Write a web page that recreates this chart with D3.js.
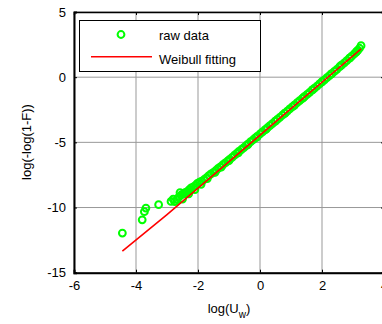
<!DOCTYPE html>
<html>
<head>
<meta charset="utf-8">
<script src="https://cdn.jsdelivr.net/npm/d3@7"></script>
<style>
  body { margin: 0; background: #fff; }
  svg { display: block; font-family: Arial, "Liberation Sans", sans-serif; }
</style>
</head>
<body>
<div id="chart"></div>
<script>
// raw data (log(U_w), log(-log(1-F)))
const rawX = [-4.44, -3.80, -3.73, -3.68, -3.27, -2.87, -2.80, -2.75, -2.68, -2.62, -2.58, -2.55, -2.48, -2.42,
  -2.35, -2.28, -2.22, -2.15, -2.08, -2.02, -1.95, -1.88, -1.80, -1.72, -1.65, -1.58, -1.50, -1.42,
  -1.35, -1.28, -1.20, -1.12, -1.05, -0.98, -0.90, -0.82, -0.75, -0.68, -0.60, -0.52, -0.45, -0.38,
  -0.30, -0.22, -0.15, -0.08, 0.00, 0.08, 0.16, 0.24, 0.32, 0.40, 0.48, 0.56, 0.64, 0.72, 0.80,
  0.88, 0.96, 1.04, 1.12, 1.20, 1.28, 1.36, 1.44, 1.52, 1.60, 1.68, 1.76, 1.84, 1.92, 2.00, 2.08,
  2.16, 2.24, 2.32, 2.40, 2.48, 2.56, 2.64, 2.72, 2.80, 2.88, 2.96, 3.04, 3.10, 3.16, 3.21, 3.26,
  -2.50, -2.30, -2.10, -1.90, -1.70, -1.45, -1.25, -1.00, -0.70, -0.40, -0.10, 0.20, 0.50, 0.80,
  1.10, 1.40, 1.70, 2.00, 2.30, 2.60, 2.90, 3.12];
const rawY = [-11.96, -10.94, -10.32, -10.04, -9.78, -9.53, -9.35, -9.55, -9.40, -9.20, -8.85, -9.05, -8.95, -8.85,
  -8.78, -8.62, -8.50, -8.42, -8.30, -8.15, -8.05, -7.98, -7.85, -7.70, -7.55, -7.42, -7.30, -7.15,
  -7.00, -6.88, -6.72, -6.58, -6.45, -6.30, -6.15, -5.98, -5.85, -5.70, -5.55, -5.40, -5.25, -5.12,
  -4.95, -4.80, -4.66, -4.52, -4.36, -4.20, -4.05, -3.88, -3.72, -3.56, -3.40, -3.24, -3.08, -2.92, -2.76,
  -2.60, -2.44, -2.28, -2.12, -1.96, -1.80, -1.64, -1.48, -1.32, -1.16, -1.00, -0.84, -0.68, -0.52, -0.36, -0.20,
  -0.04, 0.12, 0.28, 0.44, 0.60, 0.78, 0.94, 1.10, 1.27, 1.44, 1.61, 1.79, 1.93, 2.08, 2.22, 2.42,
  -9.35, -8.95, -8.62, -8.22, -7.78, -7.30, -6.90, -6.40, -5.80, -5.20, -4.60, -3.98, -3.37, -2.78,
  -2.18, -1.57, -0.96, -0.35, 0.26, 0.87, 1.48, 1.98];

// Weibull fit line
const fitX = [-4.44, -3.00, -2.00, -1.00, 0.00, 1.00, 2.00, 3.26];
const fitY = [-13.35, -10.54, -8.51, -6.48, -4.45, -2.42, -0.39, 2.17];

const xTicks = [-6, -4, -2, 0, 2, 4];
const yTicks = [-15, -10, -5, 0, 5];
const legendLabels = ['raw data', 'Weibull fitting'];

const W = 382, H = 324;
const m = { left: 74, top: 12, right: 384, bottom: 272.7 };

const svg = d3.select('#chart').append('svg')
  .attr('width', W)
  .attr('height', H);

const x = d3.scaleLinear().domain([-6, 4]).range([m.left, m.right]);
const y = d3.scaleLinear().domain([-15, 5]).range([m.bottom, m.top]);

// grid
const grid = svg.append('g');
grid.selectAll('line.gx')
  .data(xTicks)
  .enter()
  .append('line')
  .attr('x1', d => x(d)).attr('x2', d => x(d))
  .attr('y1', m.top).attr('y2', m.bottom)
  .attr('stroke', '#999')
  .attr('stroke-width', 1);
grid.selectAll('line.gy')
  .data(yTicks)
  .enter()
  .append('line')
  .attr('x1', m.left).attr('x2', m.right)
  .attr('y1', d => y(d)).attr('y2', d => y(d))
  .attr('stroke', '#999')
  .attr('stroke-width', 1);

// raw data circles
svg.append('g')
  .selectAll('circle')
  .data(rawX.map((v, i) => [v, rawY[i]]))
  .enter()
  .append('circle')
  .attr('cx', d => x(d[0]))
  .attr('cy', d => y(d[1]))
  .attr('r', 3.4)
  .attr('fill', 'none')
  .attr('stroke', '#00ff00')
  .attr('stroke-width', 2);

// fit line
const line = d3.line().x(d => x(d[0])).y(d => y(d[1]));
svg.append('path')
  .datum(fitX.map((v, i) => [v, fitY[i]]))
  .attr('d', line)
  .attr('fill', 'none')
  .attr('stroke', '#ff0000')
  .attr('stroke-width', 1.6);

// axes
const fmt = d => String(d);
const xAxis = svg.append('g')
  .attr('transform', `translate(0,${m.bottom})`)
  .call(d3.axisBottom(x).tickValues(xTicks).tickSize(-3).tickPadding(8).tickFormat(fmt));
const yAxis = svg.append('g')
  .attr('transform', `translate(${m.left},0)`)
  .call(d3.axisLeft(y).tickValues(yTicks).tickSize(-3).tickPadding(8).tickFormat(fmt));
svg.append('g')
  .attr('transform', `translate(0,${m.top})`)
  .call(d3.axisTop(x).tickValues(xTicks).tickSize(-3).tickFormat(''));
svg.append('g')
  .attr('transform', `translate(${m.right},0)`)
  .call(d3.axisRight(y).tickValues(yTicks).tickSize(-3).tickFormat(''));

svg.selectAll('.domain').attr('stroke', '#000').attr('stroke-width', 1.4);
xAxis.select('.domain').attr('stroke-width', 2);
yAxis.select('.domain').attr('stroke-width', 2);
svg.selectAll('.tick line').attr('stroke', '#000');
svg.selectAll('.tick text')
  .attr('font-size', 13)
  .attr('font-family', 'Arial, "Liberation Sans", sans-serif')
  .attr('fill', '#000');

// axis labels
const xl = svg.append('text')
  .attr('x', 229)
  .attr('y', 313)
  .attr('text-anchor', 'middle')
  .attr('font-size', 13);
xl.append('tspan').text('log(U');
xl.append('tspan').attr('font-size', 10).attr('dy', 5).text('w');
xl.append('tspan').attr('dy', -5).text(')');

svg.append('text')
  .attr('transform', 'translate(31,142) rotate(-90)')
  .attr('text-anchor', 'middle')
  .attr('font-size', 13)
  .text('log(-log(1-F))');

// legend
const lg = svg.append('g');
lg.append('rect')
  .attr('x', 79.5).attr('y', 20.5)
  .attr('width', 181).attr('height', 51)
  .attr('fill', '#fff')
  .attr('stroke', '#000')
  .attr('stroke-width', 1);
lg.append('circle')
  .attr('cx', 121).attr('cy', 34.5)
  .attr('r', 3.4)
  .attr('fill', 'none')
  .attr('stroke', '#00ff00')
  .attr('stroke-width', 2);
lg.append('line')
  .attr('x1', 91).attr('x2', 152)
  .attr('y1', 56.7).attr('y2', 56.7)
  .attr('stroke', '#ff0000')
  .attr('stroke-width', 1.6);
lg.selectAll('text')
  .data(legendLabels)
  .enter()
  .append('text')
  .attr('x', 159)
  .attr('y', (d, i) => 40 + i * 24)
  .attr('font-size', 13)
  .text(d => d);
</script>
</body>
</html>
